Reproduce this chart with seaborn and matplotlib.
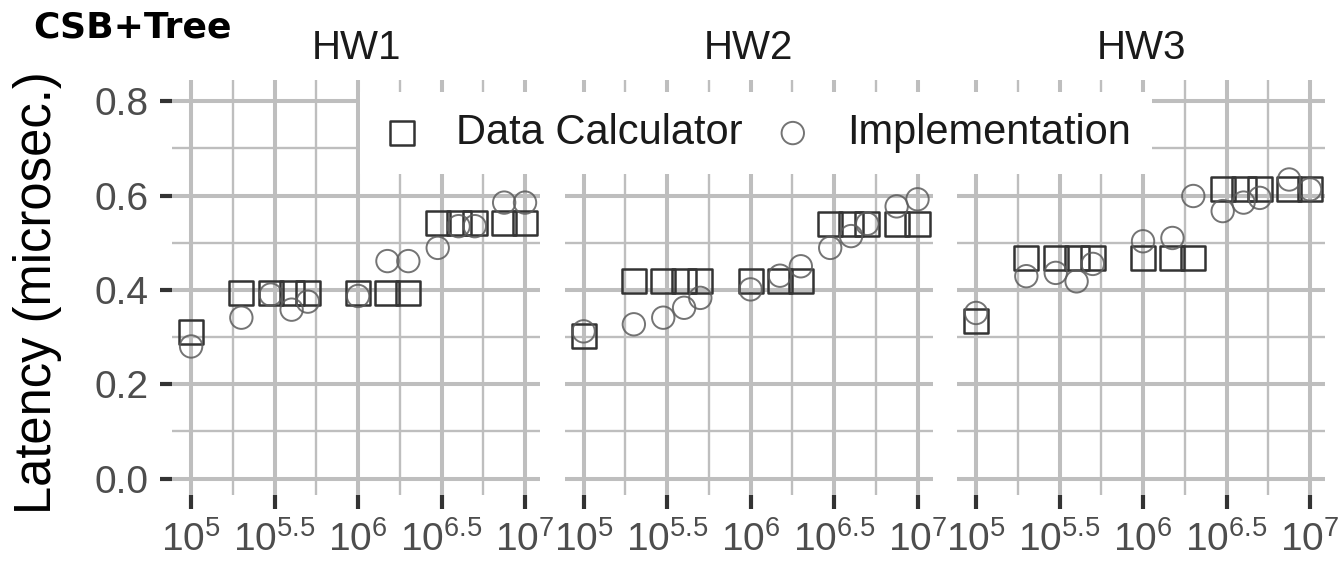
import numpy as np
import pandas as pd
import matplotlib
matplotlib.use("Agg")
import matplotlib.pyplot as plt
import seaborn as sns
from matplotlib.ticker import FixedLocator, FixedFormatter, NullFormatter

# ---------------- data ----------------
hardware = ["HW1", "HW2", "HW3"]
sizes = [1e5, 2e5, 3e5, 4e5, 5e5, 1e6, 1.5e6, 2e6, 3e6, 4e6, 5e6, 7.5e6, 1e7]

calc_hw1 = [0.311, 0.394, 0.394, 0.394, 0.394, 0.394, 0.394, 0.394, 0.542, 0.542, 0.542, 0.542, 0.542]
impl_hw1 = [0.280, 0.341, 0.390, 0.358, 0.375, 0.387, 0.461, 0.461, 0.489, 0.535, 0.535, 0.585, 0.585]

calc_hw2 = [0.302, 0.418, 0.418, 0.418, 0.418, 0.418, 0.418, 0.418, 0.539, 0.539, 0.539, 0.539, 0.539]
impl_hw2 = [0.312, 0.327, 0.341, 0.362, 0.383, 0.401, 0.430, 0.450, 0.489, 0.514, 0.540, 0.577, 0.592]

calc_hw3 = [0.334, 0.468, 0.468, 0.468, 0.468, 0.468, 0.468, 0.468, 0.613, 0.613, 0.613, 0.613, 0.613]
impl_hw3 = [0.351, 0.429, 0.436, 0.418, 0.455, 0.503, 0.510, 0.599, 0.567, 0.585, 0.595, 0.634, 0.613]

sources = ["Data Calculator", "Implementation"]
xtick_exps = [5, 5.5, 6, 6.5, 7]
xtick_labels = [r"$10^{5}$", r"$10^{5.5}$", r"$10^{6}$", r"$10^{6.5}$", r"$10^{7}$"]
ytick_vals = [0.0, 0.2, 0.4, 0.6, 0.8]
ytick_labels = ["0.0", "0.2", "0.4", "0.6", "0.8"]

rows = []
for hw, calc, impl in zip(hardware, [calc_hw1, calc_hw2, calc_hw3], [impl_hw1, impl_hw2, impl_hw3]):
    for s, v in zip(sizes, calc):
        rows.append((hw, s, v, sources[0]))
    for s, v in zip(sizes, impl):
        rows.append((hw, s, v, sources[1]))
df = pd.DataFrame(rows, columns=["hw", "size", "latency", "source"])

# ---------------- style ----------------
sns.set_theme(style="white")
plt.rcParams["font.family"] = ["Liberation Sans", "DejaVu Sans"]
plt.rcParams["mathtext.fontset"] = "custom"
plt.rcParams["mathtext.rm"] = "Liberation Sans"
plt.rcParams["mathtext.it"] = "Liberation Sans"
plt.rcParams["mathtext.bf"] = "Liberation Sans:bold"

grid_col = "#BEBEBE"
fig, axes = plt.subplots(1, 3, figsize=(13.38, 5.64), dpi=100, sharey=True)
fig.subplots_adjust(left=0.1286, right=0.9903, bottom=0.1223, top=0.8582, wspace=0.0666)

styles = {
    "Data Calculator": dict(marker="s", s=300, edgecolor="#333333", linewidth=1.8),
    "Implementation": dict(marker="o", s=260, edgecolor="#5c5c5c", linewidth=1.4, alpha=0.85),
}

for i, (ax, hw) in enumerate(zip(axes, hardware)):
    sub = df[df["hw"] == hw]
    for src in sources:
        d = sub[sub["source"] == src]
        sns.scatterplot(data=d, x="size", y="latency", ax=ax, facecolor="none",
                        label=src, legend=False, zorder=3, **styles[src])
        ax.collections[-1].set_facecolor("none")
    ax.set_xscale("log")
    ax.set_xlim(10 ** 4.886, 10 ** 7.09)
    ax.set_ylim(-0.035, 0.845)
    ax.xaxis.set_major_locator(FixedLocator([10 ** e for e in xtick_exps]))
    ax.xaxis.set_major_formatter(FixedFormatter(xtick_labels))
    ax.xaxis.set_minor_locator(FixedLocator([10 ** e for e in [5.25, 5.75, 6.25, 6.75]]))
    ax.xaxis.set_minor_formatter(NullFormatter())
    ax.yaxis.set_major_locator(FixedLocator(ytick_vals))
    ax.yaxis.set_major_formatter(FixedFormatter(ytick_labels))
    ax.yaxis.set_minor_locator(FixedLocator([0.1, 0.3, 0.5, 0.7]))
    ax.yaxis.set_minor_formatter(NullFormatter())
    ax.set_axisbelow(True)
    ax.grid(which="major", color=grid_col, linewidth=2.9)
    ax.grid(which="minor", color=grid_col, linewidth=1.7)
    for sp in ax.spines.values():
        sp.set_visible(False)
    ax.set_xlabel("")
    ax.set_ylabel("")
    ax.set_title(hw, fontsize=29, color="#1A1A1A", pad=15)
    ax.tick_params(axis="x", which="major", length=10, width=3, color="#333333",
                   labelsize=28, labelcolor="#4D4D4D", pad=9, bottom=True)
    ax.tick_params(axis="both", which="minor", length=0)
    if i == 0:
        ax.tick_params(axis="y", which="major", length=9, width=3, color="#333333",
                       labelsize=28, labelcolor="#4D4D4D", pad=8, left=True)
    else:
        ax.tick_params(axis="y", which="major", length=0, labelleft=False, left=False)

fig.text(33 / 1338, 1 - 38 / 564, "CSB+Tree", fontsize=26, fontweight="bold",
         color="black", ha="left", va="baseline", family=["DejaVu Sans"])
fig.text(38 / 1338, 1 - 293 / 564, "Latency (microsec.)", fontsize=36.5, rotation=90,
         ha="center", va="center", color="black")

handles = [axes[0].collections[0], axes[0].collections[1]]
leg = fig.legend(handles=handles, labels=sources, ncol=2, loc="center",
                 bbox_to_anchor=(756 / 1338, 1 - 133 / 564), frameon=True,
                 facecolor="white", edgecolor="none", framealpha=1, fancybox=False,
                 fontsize=30, handlelength=1.0, handletextpad=0.8, columnspacing=0.7,
                 borderpad=0.5, scatterpoints=1)
for t in leg.get_texts():
    t.set_color("#1A1A1A")

fig.savefig("out.png", dpi=100)
